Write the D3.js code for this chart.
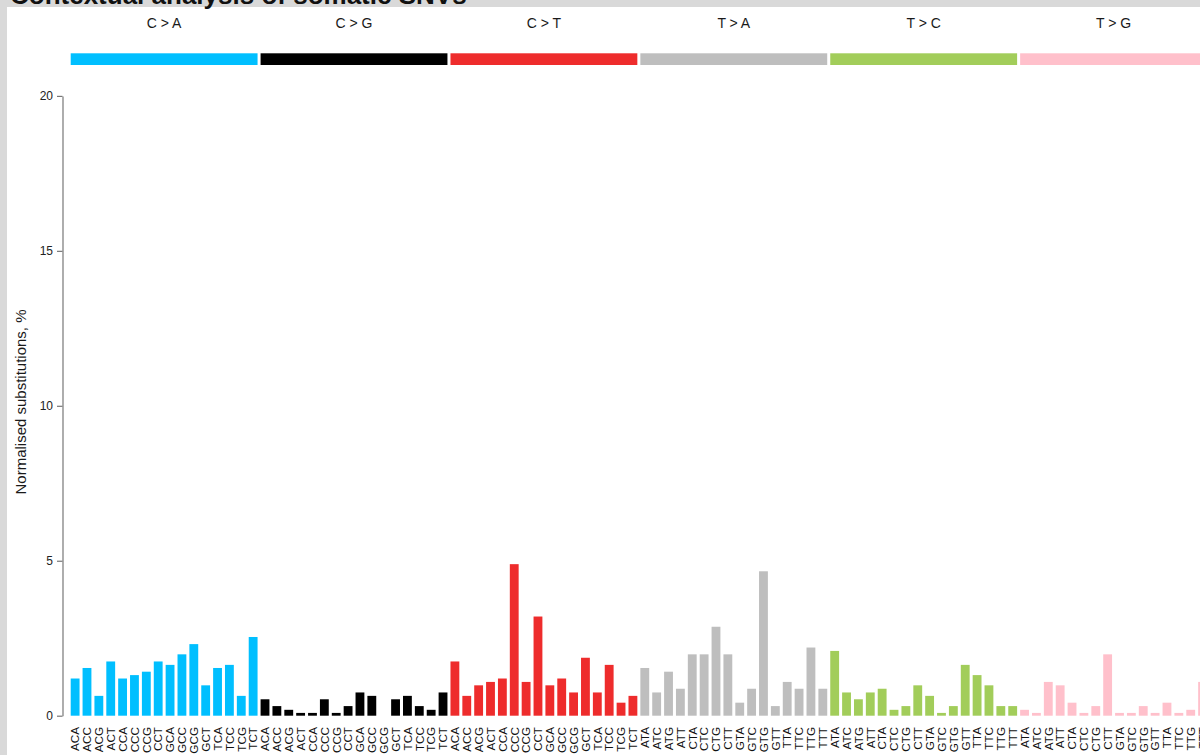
<!DOCTYPE html>
<html>
<head>
<meta charset="utf-8">
<script src="https://cdn.jsdelivr.net/npm/d3@7"></script>
<style>
  html, body { margin: 0; padding: 0; background: #d9d9d9; overflow: hidden; }
  svg { display: block; font-family: "Liberation Sans", Arial, Helvetica, sans-serif; }
</style>
</head>
<body>
<svg id="chart" width="1200" height="755"></svg>
<script>
// Substitution classes and their trinucleotide contexts
const mutationTypes = ["C > A", "C > G", "C > T", "T > A", "T > C", "T > G"];
const typeColors = ["#00BFFF", "#000000", "#EE2C2C", "#BEBEBE", "#A2CD5A", "#FFC0CB"];
const contextsC = ["ACA","ACC","ACG","ACT","CCA","CCC","CCG","CCT","GCA","GCC","GCG","GCT","TCA","TCC","TCG","TCT"];
const contextsT = ["ATA","ATC","ATG","ATT","CTA","CTC","CTG","CTT","GTA","GTC","GTG","GTT","TTA","TTC","TTG","TTT"];

// Normalised substitution frequencies (%), one array per class
const valuesCA = [1.20, 1.54, 0.64, 1.75, 1.20, 1.31, 1.42, 1.75, 1.64, 1.98, 2.31, 0.98, 1.54, 1.64, 0.64, 2.54];
const valuesCG = [0.53, 0.31, 0.19, 0.09, 0.09, 0.53, 0.09, 0.31, 0.75, 0.64, 0.00, 0.53, 0.64, 0.31, 0.19, 0.75];
const valuesCT = [1.75, 0.64, 0.98, 1.09, 1.20, 4.89, 1.09, 3.20, 0.98, 1.20, 0.75, 1.87, 0.75, 1.64, 0.42, 0.64];
const valuesTA = [1.54, 0.75, 1.42, 0.87, 1.98, 1.98, 2.87, 1.98, 0.42, 0.87, 4.66, 0.31, 1.09, 0.87, 2.20, 0.87];
const valuesTC = [2.09, 0.75, 0.53, 0.75, 0.87, 0.19, 0.31, 0.98, 0.64, 0.09, 0.31, 1.64, 1.31, 0.98, 0.31, 0.31];
const valuesTG = [0.19, 0.09, 1.09, 0.98, 0.42, 0.09, 0.31, 1.98, 0.09, 0.09, 0.31, 0.09, 0.42, 0.09, 0.19, 1.09];

const yTicks = [0, 5, 10, 15, 20];
const title = "Contextual analysis of somatic SNVs";
const yLabel = "Normalised substitutions, %";

// Flatten into one row per bar
const seriesValues = [valuesCA, valuesCG, valuesCT, valuesTA, valuesTC, valuesTG];
const rows = [];
mutationTypes.forEach((t, gi) => {
  const ctx = t.startsWith("C") ? contextsC : contextsT;
  ctx.forEach((c, ci) => {
    rows.push({ id: gi * 16 + ci, type: t, group: gi, context: c, value: seriesValues[gi][ci] });
  });
});

const svg = d3.select("#chart");

// White plotting panel
svg.append("rect").attr("x", 7).attr("y", 7).attr("width", 1200).attr("height", 760).attr("fill", "#ffffff");

// Title
svg.append("text")
  .attr("x", 10).attr("y", 4)
  .attr("font-size", 26).attr("font-weight", "bold").attr("fill", "#111")
  .text(title);

const x = d3.scaleBand()
  .domain(rows.map(d => d.id))
  .range([70.7, 1207])
  .paddingInner(0.255)
  .paddingOuter(0);

const y = d3.scaleLinear().domain([0, 20]).range([715.7, 95.9]);

// Category header bands and labels
const groups = mutationTypes.map((t, gi) => {
  const first = rows[gi * 16].id, last = rows[gi * 16 + 15].id;
  return { type: t, color: typeColors[gi], x0: x(first), x1: x(last) + x.bandwidth() };
});

svg.append("g").selectAll("rect").data(groups).join("rect")
  .attr("x", d => d.x0).attr("y", 53.3)
  .attr("width", d => d.x1 - d.x0).attr("height", 11.7)
  .attr("fill", d => d.color);

svg.append("g").selectAll("text").data(groups).join("text")
  .attr("x", d => (d.x0 + d.x1) / 2).attr("y", 28)
  .attr("text-anchor", "middle").attr("font-size", 14).attr("fill", "#1a1a1a")
  .text(d => d.type);

// Bars
svg.append("g").selectAll("rect").data(rows).join("rect")
  .attr("x", d => x(d.id))
  .attr("y", d => y(d.value))
  .attr("width", x.bandwidth())
  .attr("height", d => y(0) - y(d.value))
  .attr("fill", d => typeColors[d.group]);

// Y axis
const yAxis = d3.axisLeft(y).tickValues(yTicks).tickSize(5.5).tickPadding(4).tickSizeOuter(0);
const gy = svg.append("g").attr("transform", "translate(62.5,0)").call(yAxis);
gy.select(".domain").attr("stroke", "#777").attr("stroke-width", 1.2);
gy.selectAll(".tick line").attr("stroke", "#777").attr("stroke-width", 1.2);
gy.selectAll(".tick text").attr("font-size", 12).attr("fill", "#222")
  .attr("font-family", "Liberation Sans, Arial, sans-serif");

// Y axis title
svg.append("text")
  .attr("transform", "translate(26,402) rotate(-90)")
  .attr("text-anchor", "middle").attr("font-size", 15).attr("fill", "#1a1a1a")
  .text(yLabel);

// Context labels under each bar
svg.append("g").selectAll("text").data(rows).join("text")
  .attr("transform", d => `translate(${x(d.id) + x.bandwidth() / 2 + 4.3},727) rotate(-90)`)
  .attr("text-anchor", "end").attr("font-size", 11.7).attr("fill", "#111")
  .text(d => d.context);
</script>
</body>
</html>
